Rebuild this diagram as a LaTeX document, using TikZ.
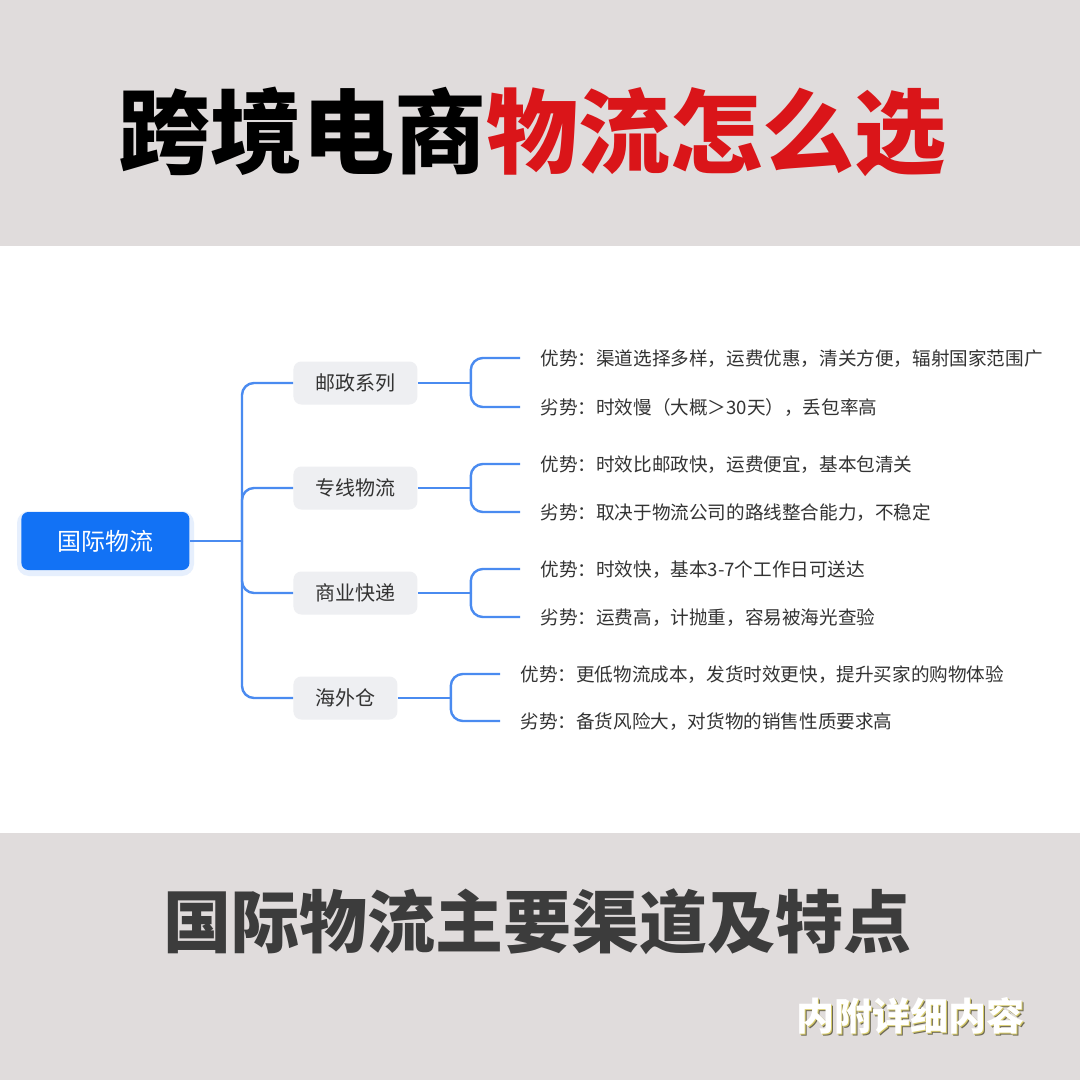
\documentclass[tikz,border=0pt]{standalone}
\usepackage{fontspec}
\setmainfont{Noto Sans CJK SC}
\usetikzlibrary{calc}
\definecolor{bandgray}{HTML}{E0DCDC}
\definecolor{titlered}{HTML}{DA1519}
\definecolor{rootblue}{HTML}{1272F5}
\definecolor{linkblue}{HTML}{4A8BF0}
\definecolor{branchfill}{HTML}{EEEFF2}
\definecolor{txtdark}{HTML}{333333}
\definecolor{subgray}{HTML}{3C3C3C}
\definecolor{shadowyellow}{HTML}{D9CD6C}
\definecolor{shadowdark}{HTML}{6E6A55}
\definecolor{glowblue}{HTML}{D6E5FC}
\tikzset{
  conn/.style={draw=linkblue, line width=1.2pt, rounded corners=6pt},
  rootbox/.style={fill=rootblue, rounded corners=3.5pt, text=white, font=\fontsize{12pt}{14pt}\selectfont,
    inner xsep=18pt, inner ysep=0pt, minimum height=29pt, text height=10pt, text depth=0.9pt, anchor=west},
  branchbox/.style={fill=branchfill, rounded corners=4pt, text=txtdark, font=\fontsize{10pt}{12pt}\selectfont,
    inner xsep=11pt, inner ysep=0pt, minimum height=21.5pt, text height=8.3pt, text depth=0.7pt, anchor=west},
  leaftext/.style={text=txtdark, font=\fontsize{9.3pt}{11pt}\selectfont, inner xsep=10pt, inner ysep=0pt,
    text height=7.7pt, text depth=0.7pt, anchor=west},
}
\begin{document}
\begin{tikzpicture}[x=0.5pt,y=-0.5pt]
\useasboundingbox (0,0) rectangle (1080,1080);
% bands
\fill[bandgray] (0,0) rectangle (1080,246);
\fill[white] (0,246) rectangle (1080,833);
\fill[bandgray] (0,833) rectangle (1080,1080);
% title
\node[anchor=base, inner sep=0pt, font=\fontsize{46pt}{50pt}\selectfont\bfseries] (title) at (532,167)
  {\textcolor{black}{跨境电商}\textcolor{titlered}{物流怎么选}};
% subtitle
\node[anchor=base, inner sep=0pt, text=subgray, font=\fontsize{34pt}{38pt}\selectfont\bfseries] (subtitle) at (537,947)
  {国际物流主要渠道及特点};
% corner note with shadow
\node[anchor=base, inner sep=0pt, text=shadowdark, font=\fontsize{19pt}{21pt}\selectfont\bfseries] (note2) at (912.5,1032.5) {内附详细内容};
\node[anchor=base, inner sep=0pt, text=shadowyellow, font=\fontsize{19pt}{21pt}\selectfont\bfseries] (note1) at (911.5,1031.5) {内附详细内容};
\node[anchor=base, inner sep=0pt, text=white, font=\fontsize{19pt}{21pt}\selectfont\bfseries] (note) at (910,1030) {内附详细内容};
% soft glow under root
\fill[glowblue, opacity=0.6, rounded corners=6pt] (17,511) rectangle (194,576);
% mind map
\node[rootbox] (root) at (21,541) {国际物流};
\node[branchbox] (b1) at (293,383) {邮政系列};
\node[branchbox] (b2) at (293,488) {专线物流};
\node[branchbox] (b3) at (293,593) {商业快递};
\node[branchbox] (b4) at (293,698) {海外仓};
% leaves
\node[leaftext] (l1a) at (520,358) {优势：渠道选择多样，运费优惠，清关方便，辐射国家范围广};
\node[leaftext] (l1b) at (520,407) {劣势：时效慢（大概＞30天），丢包率高};
\node[leaftext] (l2a) at (520,464) {优势：时效比邮政快，运费便宜，基本包清关};
\node[leaftext] (l2b) at (520,512) {劣势：取决于物流公司的路线整合能力，不稳定};
\node[leaftext] (l3a) at (520,569) {优势：时效快，基本3-7个工作日可送达};
\node[leaftext] (l3b) at (520,617) {劣势：运费高，计抛重，容易被海光查验};
\node[leaftext] (l4a) at (500,674) {优势：更低物流成本，发货时效更快，提升买家的购物体验};
\node[leaftext] (l4b) at (500,721) {劣势：备货风险大，对货物的销售性质要求高};
% trunk connectors
\coordinate (trunk) at (242,541);
\draw[conn] (root.east) -- (trunk);
\draw[conn] (trunk) |- (b1.west);
\draw[conn] (trunk) |- (b2.west);
\draw[conn] (trunk) |- (b3.west);
\draw[conn] (trunk) |- (b4.west);
% leaf connectors
\foreach \b/\la/\lb in {b1/l1a/l1b, b2/l2a/l2b, b3/l3a/l3b, b4/l4a/l4b}{
  \draw[conn] (\b.east) -- ++(53,0) coordinate (k);
  \draw[conn] (k) |- (\la.west);
  \draw[conn] (k) |- (\lb.west);
}
\end{tikzpicture}
\end{document}
